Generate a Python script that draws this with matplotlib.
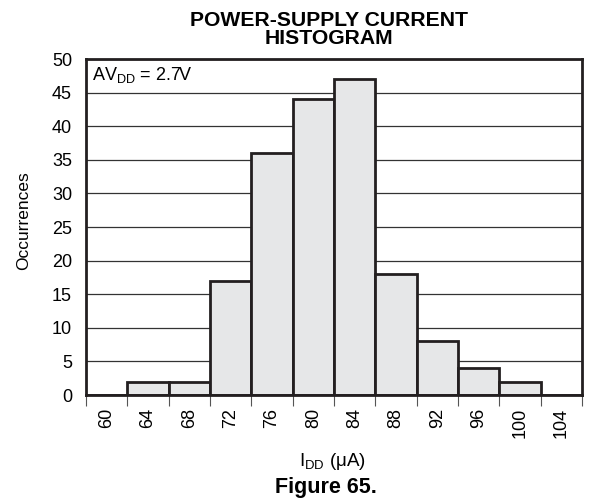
import matplotlib
matplotlib.use("Agg")
import matplotlib.pyplot as plt
import numpy as np

plt.rcParams['font.family'] = ['Liberation Sans', 'DejaVu Sans']
plt.rcParams['mathtext.fontset'] = 'custom'
plt.rcParams['mathtext.rm'] = 'Liberation Sans'
plt.rcParams['mathtext.it'] = 'Liberation Sans:italic'

# histogram bins (uA) and counts
bins = ['60', '64', '68', '72', '76', '80', '84', '88', '92', '96', '100', '104']
counts = [0, 2, 2, 17, 36, 44, 47, 18, 8, 4, 2, 0]
y_ticks = [0, 5, 10, 15, 20, 25, 30, 35, 40, 45, 50]

fig = plt.figure(figsize=(5.92, 5.0), dpi=100)
# axes box: x 86..582 px, y 59..395 px
ax = fig.add_axes([86 / 592, 1 - 395 / 500, 496 / 592, 336 / 500])

x = np.arange(len(bins))
ax.bar(x, counts, width=1.0, color='#e6e7e8', edgecolor='#231f20',
       linewidth=2.0, zorder=3)

ax.set_xlim(-0.5, len(bins) - 0.5)
ax.set_ylim(0, 50)
ax.set_yticks(y_ticks)
ax.yaxis.grid(True, color='#333333', linewidth=0.9, zorder=1)
ax.tick_params(axis='y', length=0, pad=10, labelsize=13)

ax.set_xticks(x)
ax.set_xticklabels(bins, rotation=90)
ax.set_xticks(np.arange(len(bins) + 1) - 0.5, minor=True)
ax.tick_params(axis='x', which='major', length=0, pad=9.5, labelsize=13)
ax.tick_params(axis='x', which='minor', length=8, width=0.8, color='#555555')

for s in ax.spines.values():
    s.set_linewidth(2.0)
    s.set_color('#231f20')
    s.set_zorder(4)

ax.set_ylabel('Occurrences', fontsize=12.5)
ax.yaxis.set_label_coords(-(86 - 31) / 496, (395 - 221) / 336)

ax.set_xlabel(r'I$_{\mathrm{DD}}$ (μA)', fontsize=13.5)
ax.xaxis.label.set_va('baseline')
ax.xaxis.set_label_coords(0.5 - 2 / 496, -(466 - 395) / 336)

ax.text(6 / 496, (395 - 80) / 336, r'AV$_{\mathrm{DD}}$ = 2.7V',
        transform=ax.transAxes, ha='left', va='baseline', fontsize=13,
        zorder=5)

ax.set_title('POWER-SUPPLY CURRENT\nHISTOGRAM', fontsize=15.2,
             fontweight='bold', linespacing=0.92, pad=11,
             x=(329 - 86) / 496)

fig.text(326 / 592, 1 - 493 / 500, 'Figure 65.', ha='center', va='baseline',
         fontsize=15.5, fontweight='bold')

fig.savefig('out.png', dpi=100)
